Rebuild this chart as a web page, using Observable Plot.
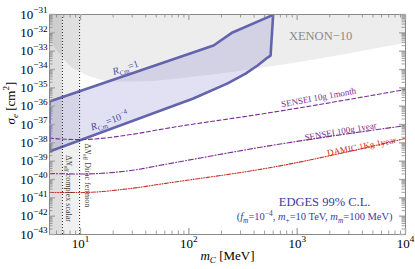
<!DOCTYPE html>
<html><head><meta charset="utf-8">
<script src="https://cdn.jsdelivr.net/npm/d3@7"></script>
<script src="https://cdn.jsdelivr.net/npm/@observablehq/plot@0.6"></script>
<style>body{margin:0;background:#fff}</style>
</head><body><div id="chart"></div>
<script>
// ---- axes ----
const xDomain = [5.17, 1e4];
const yDomain = [1e-43, 1e-31];
const xTicks = [10, 100, 1000, 10000];
const yTicks = [1e-43,1e-42,1e-41,1e-40,1e-39,1e-38,1e-37,1e-36,1e-35,1e-34,1e-33,1e-32,1e-31];

// ---- Delta N_eff bounds (MeV) ----
const nEffScalarMass = 6.8;
const nEffDiracMass = 9.8;

// ---- XENON-10 exclusion boundary ----
const xenonMass  = [5.17, 5.88, 6.82, 8.09, 10, 13.8, 19.7, 35.8, 104, 703, 10000];
const xenonSigma = [3.8e-33, 1.41e-33, 4.47e-34, 1.45e-34, 6.9e-35, 3.24e-35, 2.09e-35, 2.09e-35, 3.63e-35, 1.66e-34, 2.63e-33];

// ---- EDGES 99% C.L. band (R_Cm=1 edge, right edge, R_Cm=1e-4 edge) ----
const bandMass  = [5.17, 169, 253, 600, 568, 533, 431, 334, 228, 110, 5.17];
const bandSigma = [1.78e-36, 2.04e-33, 1.05e-32, 9.5e-32, 5.75e-34, 4.47e-34, 1.66e-34, 6.0e-35, 1.74e-35, 2.63e-36, 3.39e-39];

// ---- projected sensitivities ----
const projMass = [5.17, 7, 10, 29, 61, 568, 10000];
const sensei10gMonth = [1.82e-38, 1.58e-38, 1.51e-38, 2.82e-38, 6.03e-38, 4.47e-37, 8.13e-36];
const sensei100gYear = [2.14e-40, 2.04e-40, 2.0e-40, 3.09e-40, 6.76e-40, 7.08e-39, 8.7e-38];
const damic1KgYear   = [1.95e-41, 1.95e-41, 1.95e-41, 3.24e-41, 6.17e-41, 4.47e-40, 1.74e-38];

const zip = (ms, ss) => ms.map((m, i) => ({m, s: ss[i]}));

const W = 415, H = 269, mL = 49, mR = 10, mT = 14, mB = 35;
const fw = W - mL - mR, fh = H - mT - mB;

const yMinor = [];
for (let e = -43; e < -31; e++) for (let k = 2; k <= 9; k++) yMinor.push(k * Math.pow(10, e));
const xMinor = [];
for (let e = 0; e < 4; e++) for (let k = 2; k <= 9; k++) { const v = k * Math.pow(10, e); if (v > xDomain[0] && v < xDomain[1]) xMinor.push(v); }

const serif = "'Liberation Serif', 'DejaVu Serif', serif";
const purple = "#7a2e8e", red = "#c8302a", blue = "#4a4aa2";

const chart = Plot.plot({
  width: W, height: H,
  marginLeft: mL, marginRight: mR, marginTop: mT, marginBottom: mB,
  x: {type: "log", domain: xDomain, axis: null},
  y: {type: "log", domain: yDomain, axis: null},
  style: {fontFamily: serif, fontSize: "13px", background: "#fff", color: "#000"},
  marks: [
    Plot.rect([nEffDiracMass], {x1: xDomain[0], x2: d => d, y1: yDomain[0], y2: yDomain[1], fill: "#000", fillOpacity: 0.06}),
    Plot.rect([nEffScalarMass], {x1: xDomain[0], x2: d => d, y1: yDomain[0], y2: yDomain[1], fill: "#000", fillOpacity: 0.075}),
    Plot.areaY(zip(xenonMass, xenonSigma), {x: "m", y1: "s", y2: yDomain[1], fill: "#000", fillOpacity: 0.07, curve: "monotone-x"}),
    Plot.line(zip(bandMass, bandSigma), {x: "m", y: "s", curve: "linear-closed", fill: "rgb(105,105,195)", fillOpacity: 0.2, stroke: "#6464ae", strokeWidth: 2.6, clip: true}),
    Plot.line(zip(projMass, sensei10gMonth), {x: "m", y: "s", stroke: purple, strokeWidth: 1.1, strokeDasharray: "4,2.5", curve: "monotone-x"}),
    Plot.line(zip(projMass, sensei100gYear), {x: "m", y: "s", stroke: purple, strokeWidth: 1.1, strokeDasharray: "5,2,1,2", curve: "monotone-x"}),
    Plot.line(zip(projMass, damic1KgYear), {x: "m", y: "s", stroke: red, strokeWidth: 1.1, strokeDasharray: "4,1.5,1,1.5,1,1.5", curve: "monotone-x"}),
    Plot.ruleX([nEffScalarMass, nEffDiracMass], {stroke: "#222", strokeWidth: 1, strokeDasharray: "1,2"}),

    // labels
    Plot.text(["XENON−10"], {x: 1644, y: 7.1e-33, fill: "#8a8a8a", fontSize: 12.5}),
    Plot.text(["*R*_{Cm}=1"], {x: 26, y: 1.25e-34, rotate: -18.5, fill: blue, fontSize: 10}),
    Plot.text(["*R*_{Cm}=10^{−4}"], {x: 18.5, y: 1.6e-37, rotate: -20, fill: blue, fontSize: 10}),
    Plot.text(["SENSEI 10g 1month"], {x: 1578, y: 2.95e-36, rotate: -10.5, fill: purple, fontSize: 9}),
    Plot.text(["SENSEI 100g 1year"], {x: 2518, y: 4.2e-38, rotate: -10, fill: purple, fontSize: 9}),
    Plot.text(["DAMIC 1Kg 1year"], {x: 3936, y: 6.3e-39, rotate: -11, fill: red, fontSize: 9}),
    Plot.text(["Δ*N*_{eff} complex scalar"], {x: 7.83, y: 3.2e-41, rotate: 90, fill: "#444", fontSize: 8}),
    Plot.text(["Δ*N*_{eff} Dirac fermion"], {x: 11.6, y: 1.66e-40, rotate: 90, fill: "#444", fontSize: 8}),
    Plot.text(["EDGES 99% C.L."], {x: 1791, y: 6.3e-42, fill: "#3c3c9c", fontSize: 12.5}),
    Plot.text(["(*f*_{*m*}=10^{−4}, *m*_{+}=10 TeV, *m*_{*m*}=100 MeV)"], {x: 1449, y: 9.5e-43, fill: "#3c3c9c", fontSize: 10.5}),

    // frame and inward ticks
    Plot.frame({stroke: "#888"}),
    Plot.tickY(yTicks, {stroke: "#aaa", strokeWidth: 1.4, insetRight: fw - 6}),
    Plot.tickY(yTicks, {stroke: "#aaa", strokeWidth: 1.4, insetLeft: fw - 6}),
    Plot.tickY(yMinor, {stroke: "#888", strokeWidth: 0.8, insetRight: fw - 3.5}),
    Plot.tickY(yMinor, {stroke: "#888", strokeWidth: 0.8, insetLeft: fw - 3.5}),
    Plot.tickX(xTicks, {stroke: "#aaa", strokeWidth: 1.4, insetTop: fh - 6}),
    Plot.tickX(xTicks, {stroke: "#aaa", strokeWidth: 1.4, insetBottom: fh - 6}),
    Plot.tickX(xMinor, {stroke: "#888", strokeWidth: 0.8, insetTop: fh - 3.5}),
    Plot.tickX(xMinor, {stroke: "#888", strokeWidth: 0.8, insetBottom: fh - 3.5}),

    // axes labels
    Plot.axisY({ticks: yTicks, anchor: "left", tickSize: 0, tickPadding: 2, label: null,
      tickFormat: d => `10^{−${-Math.round(Math.log10(d))}}`}),
    Plot.axisX({ticks: xTicks, anchor: "bottom", tickSize: 0, tickPadding: 4, label: null,
      tickFormat: d => `10^{${Math.round(Math.log10(d))}}`}),
    Plot.text(["*σ*_{*e*} [cm^{2}]"], {frameAnchor: "left", dx: -39, rotate: -90, fontSize: 13}),
    Plot.text(["*m*_{*C*} [MeV]"], {frameAnchor: "bottom", dy: 25, fontSize: 13})
  ]
});
document.getElementById("chart").appendChild(chart);

// render simple markup: _{..} subscript, ^{..} superscript, *..* italic
(function rich(svg) {
  const ns = "http://www.w3.org/2000/svg";
  svg.querySelectorAll("text").forEach(el => {
    const str = el.textContent;
    if (!/[_^]\{|\*/.test(str)) return;
    const fs = parseFloat(getComputedStyle(el).fontSize) || 13;
    while (el.firstChild) el.removeChild(el.firstChild);
    let offset = 0;
    for (const part of str.split(/([_^]\{[^}]*\})/)) {
      if (!part) continue;
      const kind = part.startsWith("_{") ? "sub" : part.startsWith("^{") ? "sup" : "n";
      const content = kind === "n" ? part : part.slice(2, -1);
      const target = kind === "sub" ? 0.28 * fs : kind === "sup" ? -0.42 * fs : 0;
      let first = true;
      for (const seg of content.split(/(\*[^*]+\*)/)) {
        if (!seg) continue;
        const it = seg.length > 2 && seg[0] === "*" && seg[seg.length - 1] === "*";
        const t = document.createElementNS(ns, "tspan");
        t.textContent = it ? seg.slice(1, -1) : seg;
        if (it) t.setAttribute("font-style", "italic");
        if (kind !== "n") t.setAttribute("font-size", (0.7 * fs).toFixed(2));
        if (first) {
          const d = target - offset;
          if (Math.abs(d) > 1e-6) t.setAttribute("dy", d.toFixed(2));
          offset = target; first = false;
        }
        el.appendChild(t);
      }
    }
  });
})(chart);
</script>
</body></html>
